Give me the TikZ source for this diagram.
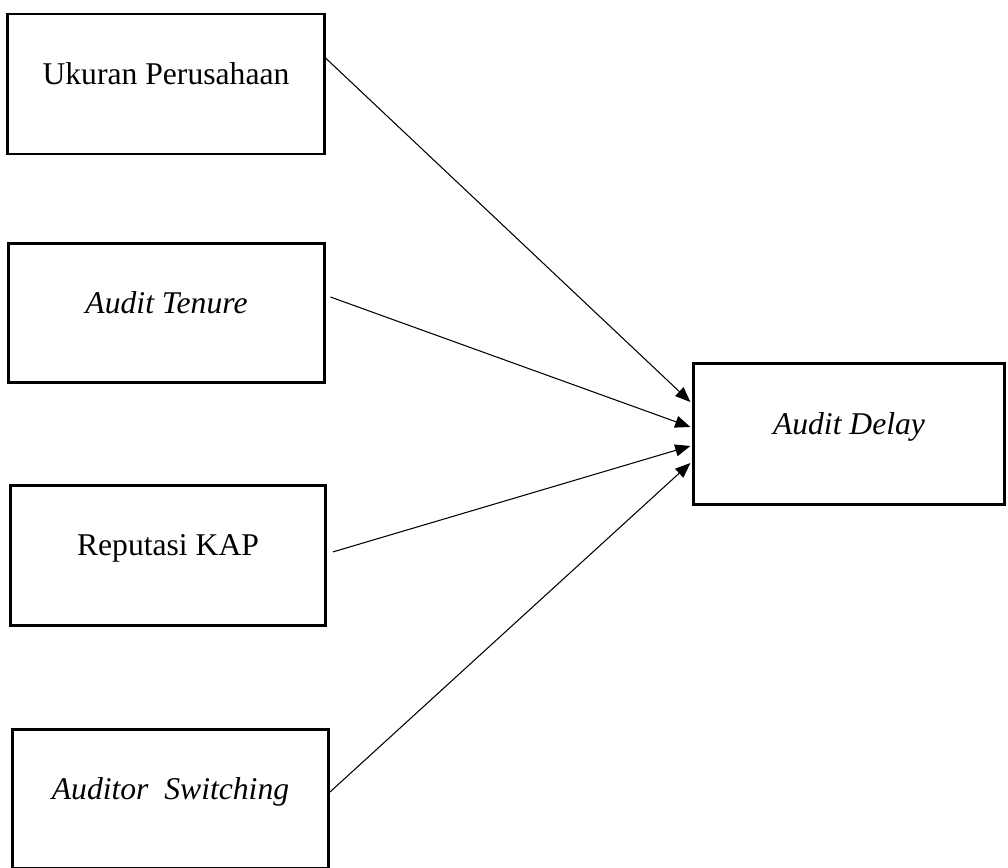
\documentclass[tikz,border=0pt]{standalone}
\usepackage{fontspec}
\setmainfont{Liberation Serif}
\usetikzlibrary{arrows.meta}

\tikzset{
  varbox/.style={draw,line width=2.1pt,rectangle,minimum width=7.9cm,minimum height=3.5cm,
    text height=0pt,text depth=0pt,inner sep=0pt},
  link/.style={line width=0.75pt,-{Triangle[length=0.38cm,width=0.3cm]}}
}

\begin{document}
\begin{tikzpicture}[x=0.025cm,y=-0.025cm,font=\fontsize{22.5}{27}\selectfont]
\useasboundingbox (0,0) rectangle (1008,868);

\node[varbox] (ukuran) at (166,84) {Ukuran Perusahaan};
\node[varbox,minimum width=7.9cm,minimum height=3.475cm] (tenure) at (166.5,313) {\itshape Audit Tenure};
\node[varbox,minimum width=7.875cm] (kap) at (168,555.5) {Reputasi KAP};
\node[varbox,minimum width=7.9cm,minimum height=3.475cm] (switch) at (170.5,799) {\itshape Auditor\ \ Switching};

\node[varbox,minimum width=7.775cm,minimum height=3.525cm] (delay) at (849,434) {\itshape Audit Delay};

\draw[link] ([yshift=0.65cm]ukuran.east) -- ([yshift=0.8cm,xshift=-0.04cm]delay.west);
\draw[link] ([xshift=0.11cm,yshift=0.4cm]tenure.east) -- ([yshift=0.175cm,xshift=-0.04cm]delay.west);
\draw[link] ([xshift=0.15cm,yshift=0.09cm]kap.east) -- ([yshift=-0.3cm,xshift=-0.04cm]delay.west);
\draw[link] ([xshift=-0.04cm,yshift=0.14cm]switch.east) -- ([yshift=-0.725cm,xshift=-0.04cm]delay.west);

\end{tikzpicture}
\end{document}
